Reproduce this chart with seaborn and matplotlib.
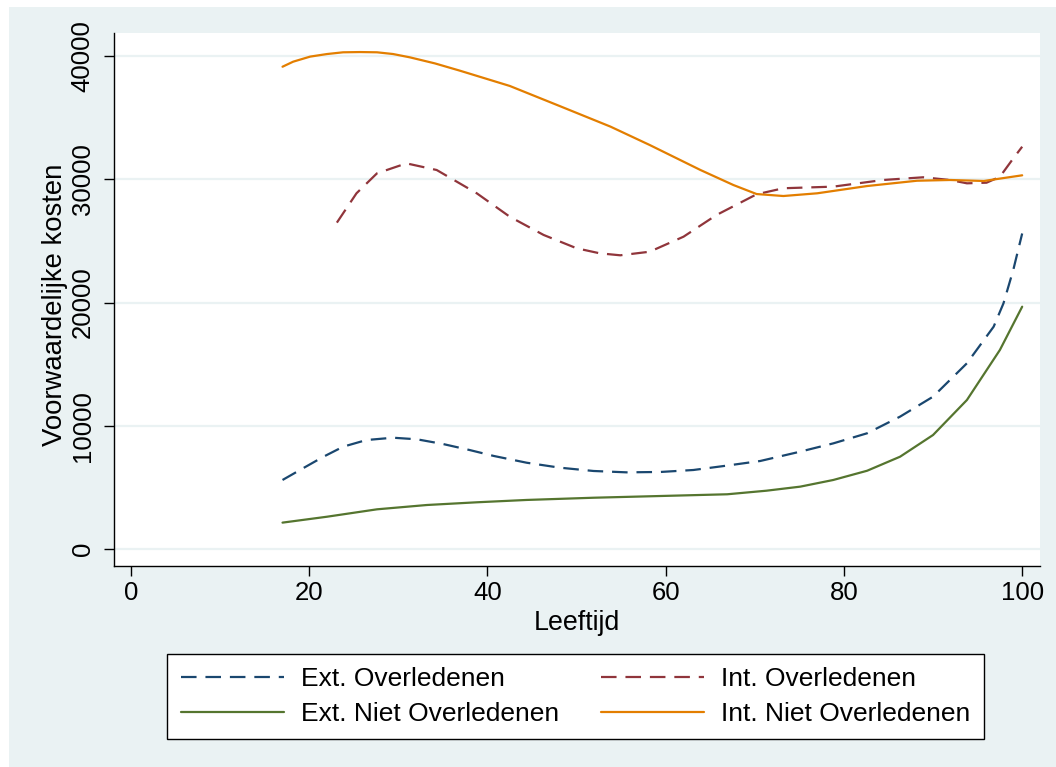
import matplotlib
matplotlib.use("Agg")
import matplotlib.pyplot as plt
from matplotlib.patches import Rectangle
import numpy as np
import pandas as pd
import seaborn as sns

# (Leeftijd -> Voorwaardelijke kosten)
ext_ovl_x = [17, 19.3, 21.6, 23.8, 26.4, 29.4, 32.1, 35, 38, 40.7, 44.4, 48.1, 51.9, 55.6,
             59.4, 63.1, 66.8, 70.6, 75.1, 78.8, 82.6, 86.3, 90, 93.8, 96.8, 97.9, 99, 100]
ext_ovl_y = [5600, 6550, 7490, 8300, 8840, 9030, 8900, 8520, 8030, 7550, 7000, 6600, 6330, 6220,
             6250, 6410, 6760, 7140, 7900, 8570, 9390, 10740, 12360, 15070, 18040, 19930, 22640, 25600]

ext_niet_x = [17, 22, 27.6, 33.2, 38.8, 44.4, 51.9, 59.4, 66.9, 71.3, 75.1, 78.8, 82.6, 86.3,
              90, 93.8, 97.5, 100]
ext_niet_y = [2140, 2620, 3220, 3570, 3790, 3980, 4160, 4300, 4440, 4730, 5060, 5600, 6350, 7490,
              9250, 12090, 16150, 19660]

int_ovl_x = [23.1, 25.3, 27.6, 30.9, 34.3, 38.8, 42.5, 46.3, 50, 52.6, 54.9, 58.2, 62, 65.7,
             70.2, 73.2, 78.8, 84.4, 88.9, 91.9, 93.8, 96, 97.5, 99, 100]
int_ovl_y = [26480, 28860, 30480, 31290, 30750, 28860, 26960, 25480, 24400, 23990, 23830, 24120,
             25340, 27100, 28780, 29270, 29400, 29940, 30160, 29940, 29670, 29720, 30200, 31690, 32640]

int_niet_x = [17, 18.2, 20.1, 22, 23.8, 25.7, 27.6, 29.4, 31.3, 34.1, 36.9, 42.5, 48.1, 53.8,
              58.2, 63.9, 67.6, 70.2, 73.2, 77, 82.6, 88.2, 91.9, 95.7, 100]
int_niet_y = [39130, 39540, 39950, 40160, 40300, 40320, 40300, 40160, 39890, 39400, 38810, 37570,
              35940, 34270, 32780, 30750, 29530, 28800, 28640, 28860, 29450, 29880, 29940, 29860, 30320]

series = ["Ext. Overledenen", "Ext. Niet Overledenen", "Int. Overledenen", "Int. Niet Overledenen"]
xticks = [0, 20, 40, 60, 80, 100]
yticks = [0, 10000, 20000, 30000, 40000]

frames = []
for name, xs, ys in zip(series, [ext_ovl_x, ext_niet_x, int_ovl_x, int_niet_x],
                        [ext_ovl_y, ext_niet_y, int_ovl_y, int_niet_y]):
    frames.append(pd.DataFrame({"Leeftijd": xs, "kosten": ys, "serie": name}))
df = pd.concat(frames, ignore_index=True)

colors = {"Ext. Overledenen": "#1a476f", "Ext. Niet Overledenen": "#55752f",
          "Int. Overledenen": "#90353b", "Int. Niet Overledenen": "#e37e00"}
dashes = {"Ext. Overledenen": (7, 4), "Ext. Niet Overledenen": "",
          "Int. Overledenen": (7, 4), "Int. Niet Overledenen": ""}

sns.set_style("white")
plt.rcParams["font.family"] = ["Liberation Sans", "DejaVu Sans"]
plt.rcParams["text.color"] = "black"
plt.rcParams["axes.labelcolor"] = "black"
plt.rcParams["xtick.color"] = "black"
plt.rcParams["ytick.color"] = "black"
fs = 18.5
bg = "#eaf2f3"

fig = plt.figure(figsize=(10.56, 7.67), dpi=100, facecolor="white")
fig.patches.append(Rectangle((9 / 1056, 0), 1, (767 - 7) / 767, transform=fig.transFigure,
                             facecolor=bg, edgecolor="none", zorder=-10))
ax = fig.add_axes([114 / 1056, (767 - 566) / 767, 926 / 1056, 533 / 767])
ax.set_facecolor("white")

sns.lineplot(data=df, x="Leeftijd", y="kosten", hue="serie", style="serie",
             hue_order=series, style_order=series, palette=colors, dashes=dashes,
             linewidth=1.6, estimator=None, sort=True, ax=ax)

ax.set_xlim(-1.91, 102.0)
ax.set_ylim(-1379, 41866)
ax.set_xticks(xticks)
ax.set_yticks(yticks)
ax.set_xticklabels([str(t) for t in xticks], fontsize=fs)
ax.set_yticklabels([str(t) for t in yticks], fontsize=fs, rotation=90, va="center")
ax.tick_params(axis="both", direction="out", length=7, width=1, color="black",
               labelcolor="black", left=True, bottom=True)
ax.tick_params(axis="y", pad=7)
ax.tick_params(axis="x", pad=4)
ax.grid(axis="y", color=bg, linewidth=1.6)
ax.grid(axis="x", visible=False)
ax.set_axisbelow(True)
for s in ["top", "right"]:
    ax.spines[s].set_visible(False)
for s in ["left", "bottom"]:
    ax.spines[s].set_color("black")
    ax.spines[s].set_linewidth(1)

ax.set_xlabel("Leeftijd", fontsize=19.3, color="black")
ax.set_ylabel("Voorwaardelijke kosten", fontsize=19.8, color="black")
ax.xaxis.set_label_coords(0.5, -0.083)
ax.yaxis.set_label_coords(-0.05, 0.49)

handles, labels = ax.get_legend_handles_labels()
hmap = dict(zip(labels, handles))
ax.get_legend().remove()
leg = ax.legend([hmap[s] for s in series], series, ncol=2, loc="center",
                bbox_to_anchor=(0.545, 0.0919), bbox_transform=fig.transFigure,
                fontsize=19, frameon=True, fancybox=False, shadow=False,
                handlelength=3.9, handletextpad=0.65, columnspacing=1.6,
                borderpad=0.5, labelspacing=0.42)
leg.get_frame().set_edgecolor("black")
leg.get_frame().set_linewidth(1)
leg.get_frame().set_facecolor("white")
leg.get_frame().set_alpha(1)
for t in leg.get_texts():
    t.set_color("black")

fig.savefig("out.png", dpi=100, facecolor=fig.get_facecolor())
